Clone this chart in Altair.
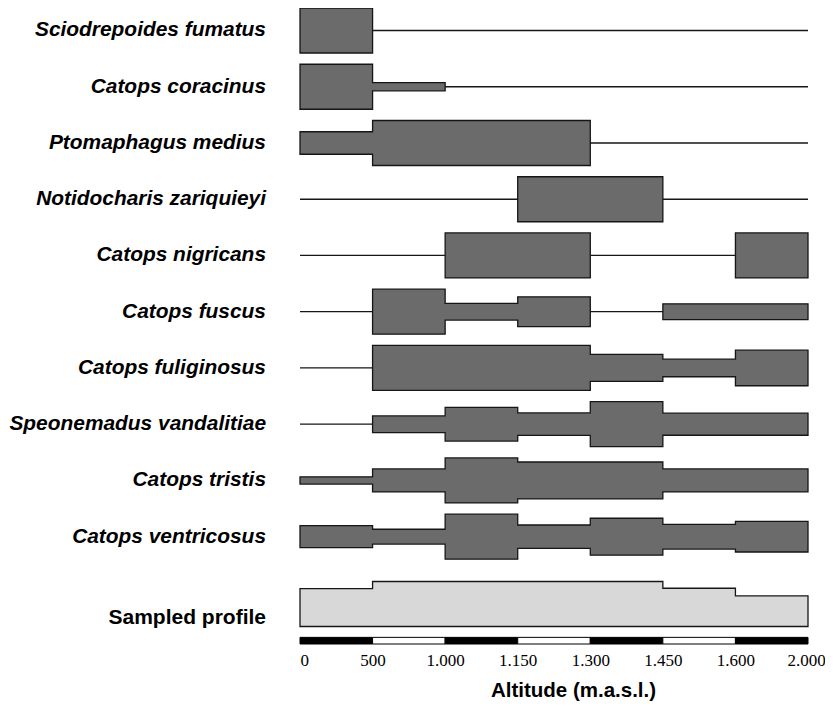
import json
import altair as alt
import pandas as pd

# ---------------- data ----------------
boundary_labels = ["0", "500", "1.000", "1.150", "1.300", "1.450", "1.600", "2.000"]

species = [
    "Sciodrepoides fumatus",
    "Catops coracinus",
    "Ptomaphagus medius",
    "Notidocharis zariquieyi",
    "Catops nigricans",
    "Catops fuscus",
    "Catops fuliginosus",
    "Speonemadus vandalitiae",
    "Catops tristis",
    "Catops ventricosus",
]

# relative abundance per altitude band (0-500, 500-1000, 1000-1150, 1150-1300,
# 1300-1450, 1450-1600, 1600-2000); 1 = widest bar
sciodrepoides_fumatus = [1.00, 0.00, 0.00, 0.00, 0.00, 0.00, 0.00]
catops_coracinus = [1.00, 0.18, 0.00, 0.00, 0.00, 0.00, 0.00]
ptomaphagus_medius = [0.50, 1.00, 1.00, 1.00, 0.00, 0.00, 0.00]
notidocharis_zariquieyi = [0.00, 0.00, 0.00, 1.00, 1.00, 0.00, 0.00]
catops_nigricans = [0.00, 0.00, 1.00, 1.00, 0.00, 0.00, 1.00]
catops_fuscus = [0.00, 1.00, 0.37, 0.66, 0.00, 0.35, 0.35]
catops_fuliginosus = [0.00, 1.00, 1.00, 1.00, 0.60, 0.39, 0.79]
speonemadus_vandalitiae = [0.00, 0.37, 0.75, 0.50, 1.00, 0.49, 0.49]
catops_tristis = [0.16, 0.51, 1.00, 0.82, 0.82, 0.51, 0.51]
catops_ventricosus = [0.49, 0.33, 1.00, 0.52, 0.82, 0.55, 0.68]

sampled_profile = [0.84, 1.00, 1.00, 1.00, 1.00, 0.85, 0.68]

abundances = [
    sciodrepoides_fumatus, catops_coracinus, ptomaphagus_medius,
    notidocharis_zariquieyi, catops_nigricans, catops_fuscus,
    catops_fuliginosus, speonemadus_vandalitiae, catops_tristis,
    catops_ventricosus,
]
profile_label = "Sampled profile"

# ---------------- layout (row units) ----------------
ROW_H = 0.8            # full bar height in row units
PROFILE_BASE = 10.597  # bottom of sampled-profile block
PROFILE_LABEL_ROW = 10.44
BAR_TOP, BAR_BOT = 10.79, 10.908
Y_DOMAIN = [-0.4, 10.908]
N_BANDS = len(boundary_labels) - 1

rows = []
for r, (name, vals) in enumerate(zip(species, abundances)):
    for i in range(N_BANDS + 1):
        h = vals[min(i, N_BANDS - 1)]
        rows.append({"sp": name, "x": i, "top": r - ROW_H * h / 2, "bot": r + ROW_H * h / 2})
sp_df = pd.DataFrame(rows)

prof_rows = []
for i in range(N_BANDS + 1):
    h = sampled_profile[min(i, N_BANDS - 1)]
    prof_rows.append({"x": i, "top": PROFILE_BASE - ROW_H * h, "bot": PROFILE_BASE})
prof_df = pd.DataFrame(prof_rows)

bar_df = pd.DataFrame({
    "x0": list(range(N_BANDS)),
    "x1": list(range(1, N_BANDS + 1)),
    "y0": [BAR_TOP] * N_BANDS,
    "y1": [BAR_BOT] * N_BANDS,
    "fill": ["#000000" if i % 2 == 0 else "#ffffff" for i in range(N_BANDS)],
})

lab_df = pd.DataFrame({"name": species, "pos": list(range(len(species)))})
prof_lab_df = pd.DataFrame({"name": [profile_label], "pos": [PROFILE_LABEL_ROW]})

# ---------------- scales / encodings ----------------
x_scale = alt.Scale(domain=[0, N_BANDS], nice=False, zero=False)
y_scale = alt.Scale(domain=Y_DOMAIN, reverse=True, nice=False, zero=False)

x_axis = alt.Axis(
    values=list(range(N_BANDS + 1)),
    labelExpr=json.dumps(boundary_labels) + "[datum.value]",
    domain=False, ticks=False, tickSize=0, grid=False,
    labelFont="Liberation Serif", labelFontSize=17, labelColor="#000",
    labelPadding=16, labelBaseline="middle",
    labelAlign={"condition": {"test": "datum.value == 0", "value": "left"}, "value": "center"},
    labelOffset={"condition": {"test": "datum.value == %d" % N_BANDS, "value": -2}, "value": 0},
    labelOverlap=False, labelFlush=False, labelBound=False,
    title="Altitude (m.a.s.l.)",
    titleFont="Liberation Sans", titleFontSize=20.5, titleFontWeight="bold",
    titleColor="#000", titleX=273, titleY=46, titleAlign="center",
    titleBaseline="middle", titleAnchor="start",
)

X = alt.X("x:Q", scale=x_scale, axis=x_axis)

species_area = alt.Chart(sp_df).mark_area(
    interpolate="step-after", fill="#6b6b6b", stroke="#161616",
    strokeWidth=1.3, fillOpacity=1,
).encode(
    x=X,
    y=alt.Y("top:Q", scale=y_scale, axis=None, stack=None),
    y2="bot:Q",
    detail="sp:N",
)

profile_area = alt.Chart(prof_df).mark_area(
    interpolate="step-after", fill="#d8d8d8", stroke="#161616",
    strokeWidth=1.3, fillOpacity=1,
).encode(
    x=X,
    y=alt.Y("top:Q", scale=y_scale, axis=None, stack=None),
    y2="bot:Q",
)

scale_bar = alt.Chart(bar_df).mark_rect(stroke="#000", strokeWidth=1).encode(
    x=alt.X("x0:Q", scale=x_scale, axis=x_axis),
    x2="x1:Q",
    y=alt.Y("y0:Q", scale=y_scale, axis=None),
    y2="y1:Q",
    fill=alt.Fill("fill:N", scale=None),
)

species_labels = alt.Chart(lab_df).mark_text(
    align="right", baseline="middle", font="Liberation Sans",
    fontSize=20.9, fontWeight="bold", fontStyle="italic", color="#000",
).encode(
    x=alt.value(-34),
    y=alt.Y("pos:Q", scale=y_scale, axis=None),
    text="name:N",
)

profile_labels = alt.Chart(prof_lab_df).mark_text(
    align="right", baseline="middle", font="Liberation Sans",
    fontSize=21, fontWeight="bold", color="#000",
).encode(
    x=alt.value(-34),
    y=alt.Y("pos:Q", scale=y_scale, axis=None),
    text="name:N",
)

chart = alt.layer(
    profile_area, species_area, scale_bar, species_labels, profile_labels
).properties(
    width=508, height=636,
    autosize=alt.AutoSizeParams(type="none"),
    padding={"left": 292, "top": 0, "right": 17, "bottom": 60},
    background="white",
).configure_view(strokeWidth=0)

chart.save("out.html", embed_options={"renderer": "svg", "actions": False})
